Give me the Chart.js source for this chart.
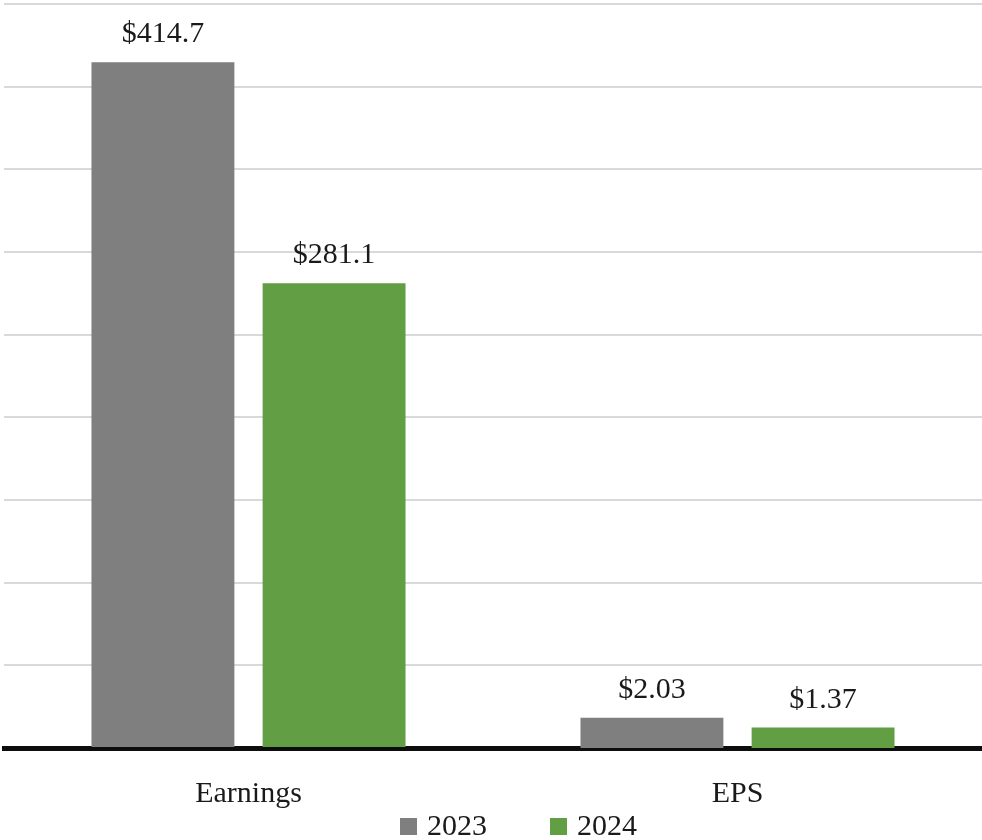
<!DOCTYPE html>
<html>
<head>
<meta charset="utf-8">
<script src="https://cdn.jsdelivr.net/npm/chart.js@4.4.1/dist/chart.umd.min.js"></script>
<style>
  html, body { margin: 0; padding: 0; background: #ffffff; }
  #wrap { width: 982px; height: 840px; }
</style>
</head>
<body>
<div id="wrap"><canvas id="grafica"></canvas></div>
<script>
//Datos
const categorias = ['Earnings', 'EPS'];
const anios = ['2023', '2024'];
const earnings = [414.7, 281.1];
const eps = [2.03, 1.37];
const colores = ['#7f7f7f', '#629f44'];

const fuente = '"Liberation Serif", serif';

//Etiquetas encima de cada barra
const etiquetasBarras = {
  id: 'etiquetasBarras',
  afterDatasetsDraw(chart) {
    const ctx = chart.ctx;
    ctx.save();
    ctx.font = '30px ' + fuente;
    ctx.fillStyle = '#1a1a1a';
    ctx.textAlign = 'center';
    ctx.textBaseline = 'alphabetic';
    chart.data.datasets.forEach((ds, i) => {
      const meta = chart.getDatasetMeta(i);
      meta.data.forEach((bar, j) => {
        const v = ds.data[j];
        if (v === null || v === undefined) return;
        const txt = '$' + v.toFixed(j === 0 ? 1 : 2);
        ctx.fillText(txt, bar.x, bar.y - 20);
      });
    });
    ctx.restore();
  }
};

//Leyenda abajo (cuadro + año)
const leyenda = {
  id: 'leyenda',
  afterDraw(chart) {
    const ctx = chart.ctx;
    const y = chart.height - 14;
    let x = chart.width / 2 - 91;
    ctx.save();
    ctx.font = '30px ' + fuente;
    ctx.textBaseline = 'middle';
    ctx.textAlign = 'left';
    anios.forEach((anio, i) => {
      ctx.fillStyle = colores[i];
      ctx.fillRect(x, y - 8, 17, 17);
      ctx.fillStyle = '#1a1a1a';
      ctx.fillText(anio, x + 27, y + 1);
      x += 150;
    });
    ctx.restore();
  }
};

const grafica = document.getElementById('grafica');

new Chart(grafica, {
  type: 'bar',
  data: {
    labels: categorias,
    datasets: [
      { label: anios[0], data: [earnings[0], null], yAxisID: 'y', backgroundColor: colores[0] },
      { label: anios[1], data: [earnings[1], null], yAxisID: 'y', backgroundColor: colores[1] },
      { label: anios[0], data: [null, eps[0]], yAxisID: 'y2', backgroundColor: colores[0] },
      { label: anios[1], data: [null, eps[1]], yAxisID: 'y2', backgroundColor: colores[1] }
    ]
  },
  options: {
    responsive: true,
    maintainAspectRatio: false,
    animation: false,
    skipNull: true,
    categoryPercentage: 0.70,
    barPercentage: 0.835,
    layout: { padding: { top: 4, left: 4, right: 0, bottom: 0 } },
    scales: {
      x: {
        grid: { display: false, drawTicks: false },
        border: { display: true, color: '#0d0d0d', width: 5 },
        ticks: {
          color: '#1a1a1a',
          padding: 28,
          font: { family: fuente, size: 30 }
        }
      },
      y: {
        min: 0,
        max: 450,
        ticks: { display: false, stepSize: 50 },
        border: { display: false },
        grid: { color: '#d9d9d9', lineWidth: 2, drawTicks: false }
      },
      y2: {
        display: false,
        min: 0,
        max: 50
      }
    },
    plugins: {
      tooltip: { enabled: false },
      legend: { display: false }
    }
  },
  plugins: [etiquetasBarras, leyenda]
});
</script>
</body>
</html>
